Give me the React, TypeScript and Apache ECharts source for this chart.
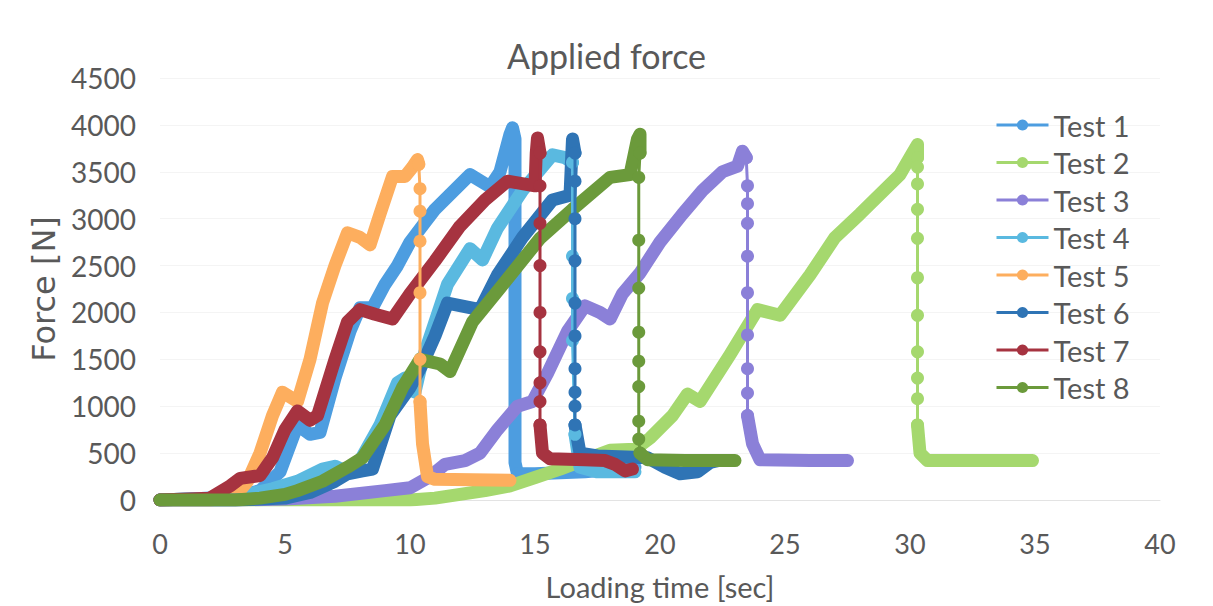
import React, { useEffect, useRef } from "react";
import * as echarts from "echarts";

const names = ["Test 1", "Test 2", "Test 3", "Test 4", "Test 5", "Test 6", "Test 7", "Test 8"];
const colors = ["#4d9de0", "#a5d86e", "#8b80d8", "#5ab9e0", "#fdae5e", "#2f74b5", "#a63340", "#6b9a3b"];

const xTicks = [0, 5, 10, 15, 20, 25, 30, 35, 40];
const yTicks = [0, 500, 1000, 1500, 2000, 2500, 3000, 3500, 4000, 4500];

// Test 1
const test1Rise = [[0, 0], [3, 30], [4, 100], [4.8, 300], [5.5, 800], [6.0, 700], [6.4, 720], [7, 1300], [7.6, 1800], [8, 2050], [8.5, 2050], [9, 2300], [9.5, 2500], [10, 2750], [11, 3100], [12.4, 3470], [13.2, 3340], [13.6, 3500], [14, 3900], [14.1, 3970], [14.2, 3850], [14.2, 2000], [14.2, 400], [14.3, 280]];
const test1Drop: number[][] = [];
const test1Tail = [[14.3, 280], [15, 280], [17, 300], [19, 350]];

// Test 2
const test2Rise = [[0, 0], [6, 0], [10, 0], [11, 20], [12, 60], [13, 100], [14, 150], [15, 240], [16, 330], [17, 430], [18, 530], [19, 540], [19.6, 660], [20.5, 900], [21.1, 1130], [21.6, 1050], [22.8, 1550], [23.9, 2030], [24.8, 1970], [26, 2400], [27, 2800], [28, 3050], [29.6, 3470], [30.1, 3700], [30.3, 3790], [30.3, 3650]];
const test2Drop = [[30.3, 3550], [30.3, 3370], [30.3, 3100], [30.3, 2790], [30.3, 2370], [30.3, 1970], [30.3, 1580], [30.3, 1300], [30.3, 1080]];
const test2Tail = [[30.3, 800], [30.4, 500], [30.7, 420], [33, 420], [34.9, 420]];

// Test 3
const test3Rise = [[0, 0], [3, 0], [5, 10], [7, 40], [9, 100], [10, 130], [10.8, 250], [11.4, 380], [12.2, 420], [12.8, 500], [13.5, 750], [14.3, 1000], [14.9, 1050], [15.5, 1350], [16.3, 1800], [17, 2070], [17.6, 2000], [18, 1930], [18.5, 2200], [19.2, 2420], [20, 2750], [20.9, 3050], [21.7, 3300], [22.5, 3500], [23.1, 3560], [23.3, 3720], [23.45, 3650]];
const test3Drop = [[23.5, 3350], [23.5, 3160], [23.5, 2950], [23.5, 2600], [23.5, 2210], [23.5, 1760], [23.5, 1400], [23.5, 1140]];
const test3Tail = [[23.5, 900], [23.7, 600], [24, 430], [26, 420], [27.5, 420]];

// Test 4
const test4Rise = [[0, 0], [3, 30], [4.5, 120], [5.5, 200], [6.5, 330], [7, 360], [7.5, 300], [8, 420], [8.8, 800], [9.5, 1250], [9.8, 1300], [10.2, 1150], [10.5, 1500], [11, 1900], [11.5, 2300], [12.4, 2680], [12.9, 2560], [13.5, 2900], [14.5, 3300], [15.7, 3680], [16.2, 3650], [16.5, 3600]];
const test4Drop = [[16.5, 2600], [16.5, 2150], [16.5, 1700]];
const test4Tail = [[16.6, 700], [16.8, 350], [17.5, 300], [19, 300]];

// Test 5
const test5Rise = [[0, 0], [2, 0], [3, 40], [3.5, 200], [4, 500], [4.5, 900], [4.9, 1150], [5.5, 1050], [6, 1500], [6.5, 2100], [7.0, 2500], [7.5, 2850], [8.0, 2800], [8.4, 2720], [8.8, 3050], [9.3, 3450], [9.8, 3450], [10.1, 3550], [10.3, 3630], [10.35, 3580]];
const test5Drop = [[10.4, 3320], [10.4, 3080], [10.4, 2760], [10.4, 2210], [10.4, 1500]];
const test5Tail = [[10.4, 1050], [10.5, 600], [10.7, 250], [11, 220], [14, 210]];

// Test 6
const test6Rise = [[0, 0], [3, 0], [5, 20], [6, 80], [7, 200], [7.5, 280], [8.1, 310], [8.5, 330], [9.2, 900], [10, 1200], [10.5, 1450], [11, 1750], [11.5, 2100], [12.8, 2030], [13.5, 2400], [14.5, 2800], [15.7, 3200], [16.4, 3250], [16.5, 3850], [16.6, 3700]];
const test6Drop = [[16.6, 3400], [16.6, 3000], [16.6, 2550], [16.6, 2100], [16.6, 1750], [16.6, 1400], [16.6, 1150], [16.6, 1000]];
const test6Tail = [[16.6, 800], [16.8, 500], [17.5, 470], [19.5, 450], [20.2, 350], [20.8, 280], [21.5, 300], [22, 400], [22.3, 420]];

// Test 7
const test7Rise = [[0, 0], [2, 20], [2.8, 150], [3.2, 230], [4, 260], [4.5, 450], [5, 750], [5.5, 950], [6, 850], [6.3, 900], [7, 1500], [7.5, 1900], [8, 2030], [8.6, 1980], [9.3, 1930], [10, 2200], [11, 2550], [12, 2920], [13, 3200], [13.9, 3400], [15, 3350], [15.05, 3700], [15.1, 3860], [15.2, 3700]];
const test7Drop = [[15.2, 3350], [15.2, 2950], [15.2, 2500], [15.2, 2000], [15.2, 1580], [15.2, 1250], [15.2, 1050]];
const test7Tail = [[15.2, 800], [15.3, 500], [15.6, 440], [17, 430], [17.8, 420], [18.2, 380], [18.6, 310], [18.9, 330]];

// Test 8
const test8Rise = [[0, 0], [3, 0], [4, 20], [5, 60], [5.5, 100], [6.5, 200], [7.5, 350], [8.1, 450], [9, 800], [9.7, 1200], [10.4, 1500], [11.2, 1450], [11.6, 1370], [12.5, 1900], [13.6, 2260], [15.2, 2790], [16.5, 3100], [18, 3440], [18.8, 3470], [19.1, 3850], [19.2, 3900], [19.2, 3700]];
const test8Drop = [[19.15, 3440], [19.15, 2770], [19.15, 2260], [19.15, 1790], [19.15, 1480], [19.15, 1210], [19.15, 840], [19.15, 650]];
const test8Tail = [[19.2, 500], [19.5, 430], [21, 420], [23, 420]];

const rises = [test1Rise, test2Rise, test3Rise, test4Rise, test5Rise, test6Rise, test7Rise, test8Rise];
const drops = [test1Drop, test2Drop, test3Drop, test4Drop, test5Drop, test6Drop, test7Drop, test8Drop];
const tails = [test1Tail, test2Tail, test3Tail, test4Tail, test5Tail, test6Tail, test7Tail, test8Tail];

const FONT = "Lato";
const TXT = "#595959";

export default function App() {
  const ref = useRef<HTMLDivElement>(null);
  useEffect(() => {
    if (!ref.current) return;
    const chart = echarts.init(ref.current, null, { renderer: "svg" });
    const series: any[] = [];
    // thin drop series with markers (first per name -> legend icon)
    names.forEach((n, i) => {
      const r = rises[i];
      const t = tails[i];
      const d = drops[i];
      const data = d.length ? [r[r.length - 1], ...d, t[0]] : [];
      series.push({
        type: "line",
        name: n,
        data,
        symbol: "circle",
        symbolSize: 13,
        showSymbol: true,
        lineStyle: { width: 3, color: colors[i] },
        itemStyle: { color: colors[i] },
        z: 3 + i * 0.01,
        silent: true,
      });
    });
    names.forEach((n, i) => {
      const thick = {
        type: "line",
        name: n,
        symbol: "none",
        showSymbol: false,
        lineStyle: { width: 13, color: colors[i], cap: "round", join: "round" },
        itemStyle: { color: colors[i] },
        z: 2,
        silent: true,
      };
      series.push({ ...thick, data: rises[i] });
      series.push({ ...thick, data: tails[i] });
    });

    chart.setOption({
      animation: false,
      backgroundColor: "#ffffff",
      title: {
        text: "Applied force",
        left: "center",
        top: 33,
        textStyle: { fontFamily: FONT, fontSize: 34, fontWeight: "normal", color: TXT },
      },
      grid: { left: 160, right: 53, top: 78, bottom: 104 },
      legend: {
        orient: "vertical",
        left: 990,
        top: 104,
        data: names,
        itemWidth: 52,
        itemHeight: 14,
        itemGap: 5.5,
        textStyle: { fontFamily: FONT, fontSize: 29, color: TXT, lineHeight: 32 },
        lineStyle: { width: 3 },
      },
      xAxis: {
        type: "value",
        min: 0,
        max: 40,
        interval: 5,
        name: "Loading time [sec]",
        nameLocation: "middle",
        nameGap: 72,
        nameTextStyle: { fontFamily: FONT, fontSize: 29, color: TXT },
        axisLine: { show: true, lineStyle: { color: "#e3e3e3", width: 1 } },
        axisTick: { show: false },
        splitLine: { show: false },
        axisLabel: {
          fontFamily: FONT,
          fontSize: 27,
          color: TXT,
          margin: 30,
          formatter: (v: number) => (xTicks.includes(v) ? String(v) : ""),
        },
      },
      yAxis: {
        type: "value",
        min: 0,
        max: 4500,
        interval: 500,
        name: "Force [N]",
        nameLocation: "middle",
        nameGap: 100,
        nameTextStyle: { fontFamily: "DejaVu Sans", fontSize: 32, color: TXT },
        axisLine: { show: false },
        axisTick: { show: false },
        splitLine: { show: true, lineStyle: { color: "#f4f4f4", width: 1 } },
        axisLabel: {
          fontFamily: FONT,
          fontSize: 28,
          color: TXT,
          margin: 24,
          formatter: (v: number) => (yTicks.includes(v) ? String(v) : ""),
        },
      },
      series,
    });
    return () => chart.dispose();
  }, []);
  return (
    <div
      ref={ref}
      style={{ position: "fixed", left: 0, top: 0, width: 1213, height: 606 }}
    />
  );
}
